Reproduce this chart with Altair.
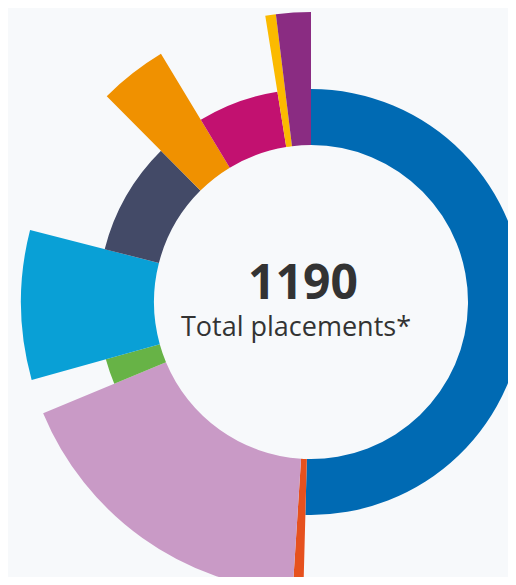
import altair as alt
import pandas as pd
import math

categories = ["Blue", "Orange-red", "Lilac", "Green", "Cyan", "Slate",
              "Orange", "Magenta", "Yellow", "Purple"]
values = [600, 7, 211, 23, 99, 102, 45, 73, 7, 23]
highlighted = [0, 1, 1, 0, 1, 0, 1, 0, 1, 1]
colors = ["#006AB3", "#E6511E", "#C99AC6", "#67B346", "#09A0D6", "#434A67",
          "#F09100", "#C21170", "#FBBA00", "#8A2C82"]

total_label = "1190"
sub_label = "Total placements*"

df = pd.DataFrame({
    "category": categories,
    "value": values,
    "highlight": highlighted,
    "idx": list(range(len(categories))),
})

W, H = 500, 569
CX, CY = 303, 294
TOTAL = sum(values)

arcs = alt.Chart(df).transform_window(
    cum="sum(value)", sort=[alt.SortField("idx")], frame=[None, 0]
).transform_calculate(
    start="datum.cum - datum.value"
).mark_arc().encode(
    theta=alt.Theta("start:Q", scale=alt.Scale(domain=[0, TOTAL], range=[0, 2 * math.pi])),
    theta2=alt.Theta2("cum:Q"),
    radius=alt.Radius("highlight:Q",
                      scale=alt.Scale(type="linear", domain=[0, 1], range=[213, 290], zero=False)),
    radius2=alt.value(157),
    color=alt.Color("category:N", scale=alt.Scale(domain=categories, range=colors), legend=None),
    x=alt.value(CX),
    y=alt.value(CY),
)

text_df = pd.DataFrame({"t": [total_label]})
big = alt.Chart(text_df).mark_text(
    font="Open Sans", fontWeight="bold", fontSize=48, color="#333333",
    align="center", baseline="alphabetic"
).encode(text="t:N", x=alt.value(295), y=alt.value(291))

sub_df = pd.DataFrame({"t": [sub_label]})
small = alt.Chart(sub_df).mark_text(
    font="Open Sans", fontSize=27, color="#333333",
    align="center", baseline="alphabetic"
).encode(text="t:N", x=alt.value(288), y=alt.value(328))

chart = alt.layer(arcs, big, small).properties(
    width=W, height=H, autosize=alt.AutoSizeParams(type="none"), padding=0,
    background="#F7F9FB",
).configure_view(stroke=None)

chart.save("out.html", embed_options={"renderer": "svg", "actions": False})
